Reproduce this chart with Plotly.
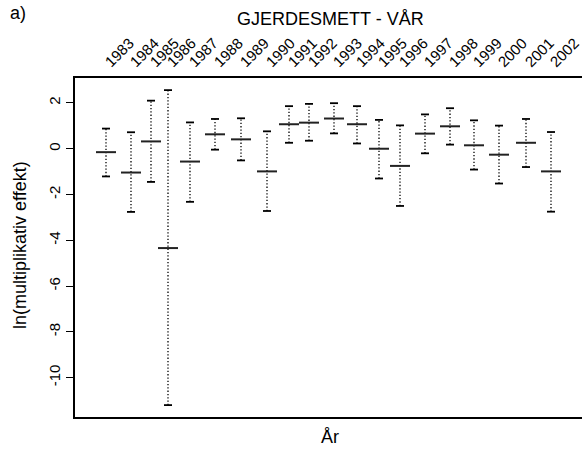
import plotly.graph_objects as go

# ---- data ----
years = ["1983", "1984", "1985", "1986", "1987", "1988", "1989", "1990", "1991", "1992",
         "1993", "1994", "1995", "1996", "1997", "1998", "1999", "2000", "2001", "2002"]
# position of each year along the (unevenly spaced) x axis
x_values = [31, 56, 76, 93, 115, 140, 166, 192, 214, 234,
            259, 282, 304, 325, 350, 375, 399, 424, 451, 476]
estimate = [-0.15, -1.04, 0.32, -4.34, -0.56, 0.63, 0.41, -0.99, 1.07, 1.14,
            1.32, 1.07, 0.00, -0.75, 0.66, 0.98, 0.15, -0.26, 0.26, -0.99]
upper = [0.88, 0.72, 2.10, 2.56, 1.15, 1.30, 1.33, 0.76, 1.86, 1.96,
         1.99, 1.86, 1.26, 1.02, 1.50, 1.77, 1.24, 1.01, 1.30, 0.73]
lower = [-1.21, -2.76, -1.45, -11.20, -2.32, -0.04, -0.51, -2.72, 0.26, 0.35,
         0.67, 0.23, -1.30, -2.50, -0.20, 0.18, -0.91, -1.52, -0.80, -2.75]
y_ticks = [2, 0, -2, -4, -6, -8, -10]

FONT = "Liberation Sans, Arial, sans-serif"
CAP = 4      # half width of whisker caps (x units)
MID = 10     # half width of estimate mark (x units)

vx, vy, cx, cy, mx, my = [], [], [], [], [], []
for x, e, u, l in zip(x_values, estimate, upper, lower):
    vx += [x, x, None]
    vy += [l, u, None]
    cx += [x - CAP, x + CAP, None, x - CAP, x + CAP, None]
    cy += [u, u, None, l, l, None]
    mx += [x - MID, x + MID, None]
    my += [e, e, None]

fig = go.Figure()
fig.add_trace(go.Scatter(x=vx, y=vy, mode="lines",
                         line=dict(color="black", width=1.3, dash="1.3px,2px"), hoverinfo="skip"))
fig.add_trace(go.Scatter(x=cx, y=cy, mode="lines",
                         line=dict(color="black", width=1.8), hoverinfo="skip"))
fig.add_trace(go.Scatter(x=mx, y=my, mode="lines",
                         line=dict(color="#222222", width=2), hoverinfo="skip"))

fig.update_layout(
    width=582, height=459,
    margin=dict(l=75, r=0, t=78, b=42),
    paper_bgcolor="white", plot_bgcolor="white",
    showlegend=False,
    font=dict(family=FONT, color="black"),
    xaxis=dict(range=[0, 507], side="top", tickmode="array", tickvals=x_values,
               ticktext=years, tickangle=-45, ticks="", showgrid=False, zeroline=False,
               showline=True, mirror=True, linecolor="black", linewidth=1.5,
               tickfont=dict(size=15, family=FONT), ticklabelstandoff=0,
               ticklabeloverflow="allow"),
    yaxis=dict(range=[-11.72, 3.09], tickmode="array", tickvals=y_ticks,
               ticktext=[str(v) for v in y_ticks], tickangle=-90, ticks="outside",
               ticklen=7, tickcolor="black", showgrid=False, zeroline=False,
               showline=True, linecolor="black", linewidth=1.5,
               tickfont=dict(size=15, family=FONT)),
    annotations=[
        dict(text="GJERDESMETT - VÅR", xref="paper", yref="paper",
             x=(330 - 75) / 507, y=1 + (78 - 19) / 339, xanchor="center", yanchor="middle",
             showarrow=False, font=dict(size=18, family=FONT)),
        dict(text="a)", xref="paper", yref="paper",
             x=(8 - 75) / 507, y=1 + (78 - 13) / 339, xanchor="left", yanchor="middle",
             showarrow=False, font=dict(size=18, family=FONT)),
        dict(text="ln(multiplikativ effekt)", xref="paper", yref="paper",
             x=(20 - 75) / 507, y=1 - (245 - 78) / 339, xanchor="center", yanchor="middle",
             textangle=-90, showarrow=False, font=dict(size=18, family=FONT)),
        dict(text="År", xref="paper", yref="paper",
             x=(330 - 75) / 507, y=-(437 - 417) / 339, xanchor="center", yanchor="middle",
             showarrow=False, font=dict(size=18, family=FONT)),
    ],
)

fig.write_html("out.html")
